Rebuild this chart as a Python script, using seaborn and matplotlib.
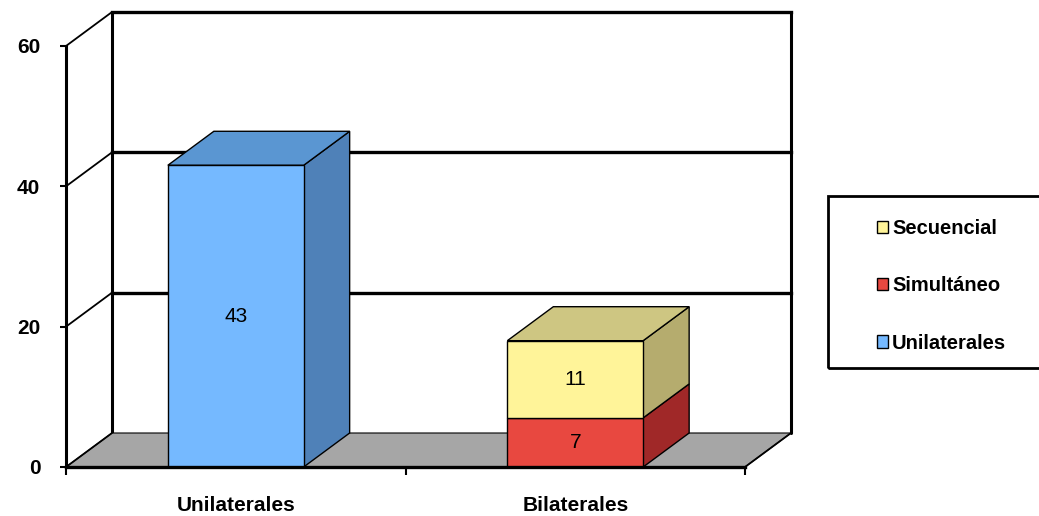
import matplotlib
matplotlib.use("Agg")
import matplotlib.pyplot as plt
from matplotlib.patches import Polygon, Rectangle, Patch
from matplotlib.lines import Line2D
import numpy as np
import pandas as pd
import seaborn as sns

# ---- data ----
categories = ["Unilaterales", "Bilaterales"]
bar_category = ["Unilaterales", "Bilaterales", "Bilaterales"]
bar_series = ["Unilaterales", "Simultáneo", "Secuencial"]
bar_value = [43, 7, 11]
legend_order = ["Secuencial", "Simultáneo", "Unilaterales"]
y_ticks = [0, 20, 40, 60]

# ---- styles ----
front_colors = {"Unilaterales": "#75B9FF", "Simultáneo": "#E84840", "Secuencial": "#FFF499"}
side_colors = {"Unilaterales": "#4F81B8", "Simultáneo": "#A02828", "Secuencial": "#B5AC6E"}
top_colors = {"Unilaterales": "#5A96D2", "Simultáneo": "#C03030", "Secuencial": "#CEC682"}
floor_color = "#A6A6A6"
DEPTH_PX = (46, 34)  # screen offset of the back plane

sns.set_theme(style="white")
plt.rcParams["font.family"] = ["Liberation Sans", "DejaVu Sans"]
plt.rcParams["text.color"] = "black"
plt.rcParams["xtick.color"] = "black"
plt.rcParams["ytick.color"] = "black"
plt.rcParams["xtick.labelcolor"] = "black"
plt.rcParams["ytick.labelcolor"] = "black"

fig = plt.figure(figsize=(10.39, 5.16), dpi=100)
fig.patch.set_facecolor("white")
ax = fig.add_axes([66 / 1039, 49 / 516, 679 / 1039, 421 / 516])
ax.set_facecolor("none")

df = pd.DataFrame({"category": bar_category, "series": bar_series, "value": bar_value})
df["bottom"] = df.groupby("category")["value"].cumsum() - df["value"]
totals = df.groupby("category")["value"].sum()

for s in bar_series:
    sub = df[df["series"] == s]
    sns.barplot(data=sub, x="category", y="value", order=categories,
                color=front_colors[s], saturation=1, width=0.4, errorbar=None,
                bottom=sub["bottom"].to_numpy(), edgecolor="black",
                linewidth=1, zorder=3, ax=ax)

ax.set_xlim(-0.5, 1.5)
ax.set_ylim(0, 60)


def back(x, y):
    """Project a point of the front plane onto the back plane."""
    px, py = ax.transData.transform((x, y))
    return tuple(ax.transData.inverted().transform((px + DEPTH_PX[0], py + DEPTH_PX[1])))


x_lo, x_hi = ax.get_xlim()

# floor
floor = Polygon([(x_lo, 0), (x_hi, 0), back(x_hi, 0), back(x_lo, 0)],
                closed=True, facecolor=floor_color, edgecolor="black",
                linewidth=0.8, zorder=0.6, clip_on=False)
ax.add_patch(floor)

# back wall gridlines and edges
for v in y_ticks[1:]:
    (ax0, ay0), (ax1, ay1) = back(x_lo, v), back(x_hi, v)
    ax.add_line(Line2D([ax0, ax1], [ay0, ay1], color="black", lw=2.4,
                       zorder=0.5, clip_on=False, solid_capstyle="projecting"))
for xe in (x_lo, x_hi):
    (bx0, by0), (bx1, by1) = back(xe, 0), back(xe, y_ticks[-1])
    ax.add_line(Line2D([bx0, bx1], [by0, by1], color="black", lw=2.2,
                       zorder=0.5, clip_on=False))

# side wall diagonals
for v in y_ticks:
    bx, by = back(x_lo, v)
    ax.add_line(Line2D([x_lo, bx], [v, by], color="black", lw=1.3,
                       zorder=0.7, clip_on=False))
bx, by = back(x_hi, 0)
ax.add_line(Line2D([x_hi, bx], [0, by], color="black", lw=1.3, zorder=0.7, clip_on=False))

# 3D faces for each bar segment
for container, s in zip(ax.containers, bar_series):
    for rect in container.patches:
        x0, y0 = rect.get_x(), rect.get_y()
        x1, y1 = x0 + rect.get_width(), y0 + rect.get_height()
        cat = categories[int(round((x0 + x1) / 2))]
        side = Polygon([(x1, y0), (x1, y1), back(x1, y1), back(x1, y0)], closed=True,
                       facecolor=side_colors[s], edgecolor="black", linewidth=1,
                       zorder=2.5, clip_on=False)
        ax.add_patch(side)
        if np.isclose(y1, totals[cat]):
            top = Polygon([(x0, y1), (x1, y1), back(x1, y1), back(x0, y1)], closed=True,
                          facecolor=top_colors[s], edgecolor="black", linewidth=1,
                          zorder=2.5, clip_on=False)
            ax.add_patch(top)
    ax.bar_label(container, fmt="%g", label_type="center", fontsize=15, color="black")

# axes styling
for side_name in ("top", "right"):
    ax.spines[side_name].set_visible(False)
ax.spines["left"].set_bounds(0, 60)
ax.spines["bottom"].set_bounds(x_lo, x_hi)
ax.spines["left"].set_linewidth(2.2)
ax.spines["bottom"].set_linewidth(2.4)
ax.spines["left"].set_color("black")
ax.spines["bottom"].set_color("black")
ax.spines["left"].set_zorder(4)
ax.spines["bottom"].set_zorder(4)

ax.set_yticks(y_ticks)
ax.set_yticklabels([str(t) for t in y_ticks], fontsize=15, fontweight="bold")
ax.tick_params(axis="y", direction="out", length=4.5, width=1.5, pad=14, left=True)
ax.set_xticks(range(len(categories)))
ax.set_xticklabels(categories, fontsize=15, fontweight="bold")
ax.set_xticks([x_lo, 0.5, x_hi], minor=True)
ax.tick_params(axis="x", which="major", length=0, pad=21)
ax.tick_params(axis="x", which="minor", direction="out", length=6, width=1.5, bottom=True)
ax.set_xlabel("")
ax.set_ylabel("")
ax.grid(False)

# legend
handles = [Patch(facecolor=front_colors[s], edgecolor="black", linewidth=1) for s in legend_order]
fig.legend(handles, legend_order, loc="upper left",
           bbox_to_anchor=(869 / 1039, 1 - 211 / 516), frameon=False,
           prop=dict(weight="bold", size=14.5), handlelength=0.55, handleheight=0.55,
           handletextpad=0.2, labelspacing=1.9, borderaxespad=0)
fig.add_artist(Rectangle((828 / 1039, 1 - 368 / 516), (1060 - 828) / 1039, (368 - 196) / 516,
                         transform=fig.transFigure, fill=False, edgecolor="black",
                         linewidth=2, clip_on=False))

fig.savefig("out.png", dpi=100)
